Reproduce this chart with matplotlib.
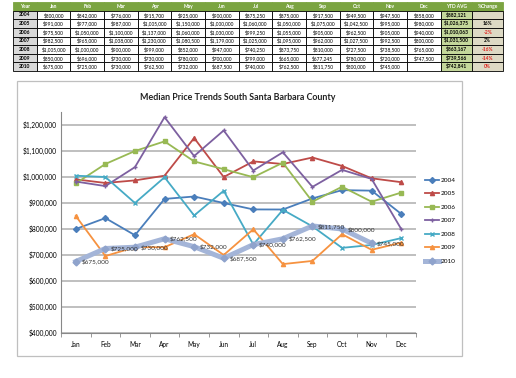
"""
Median price trends, South Santa Barbara County: table + line chart
"""

import matplotlib.pyplot as plt
from matplotlib.patches import Rectangle

plt.rcParams['font.family'] = ['Lato', 'DejaVu Sans']

months = ['Jan', 'Feb', 'Mar', 'Apr', 'May', 'Jun',
          'Jul', 'Aug', 'Sep', 'Oct', 'Nov', 'Dec']
years = ['2004', '2005', '2006', '2007', '2008', '2009', '2010']

p2004 = [800000, 842000, 776000, 915700, 925000, 900000,
         875250, 875000, 917500, 949500, 947500, 858000]
p2005 = [991000, 977000, 987000, 1005000, 1150000, 1000000,
         1060000, 1050000, 1075000, 1042500, 995000, 980000]
p2006 = [975500, 1050000, 1100000, 1137000, 1060000, 1030000,
         999250, 1055000, 905000, 962500, 905000, 940000]
p2007 = [982500, 965000, 1038000, 1230000, 1080500, 1179000,
         1025000, 1095000, 962000, 1027500, 992500, 800000]
p2008 = [1005000, 1000000, 900000, 999000, 852000, 947000,
         740250, 873750, 810000, 727500, 738500, 765000]
p2009 = [850000, 696000, 730000, 730000, 780000, 700000,
         799000, 665000, 677245, 780000, 720000, 747500]
p2010 = [675000, 725000, 730000, 762500, 732000, 687500,
         740000, 762500, 811750, 800000, 745000]

ytd_avg = [882121, 1026375, 1010063, 1031500, 863167, 739566, 742841]
pct_change = ['', '16%', '-2%', '2%', '-16%', '-14%', '0%']

series = [p2004, p2005, p2006, p2007, p2008, p2009, p2010]
colors = ['#4A7EBB', '#BE4B48', '#98B954', '#7D60A0',
          '#46AAC5', '#F69240', '#A4B5D8']
markers = ['D', '^', 's', '+', 'x', '^', 'D']

fig = plt.figure(figsize=(5.16, 3.78), dpi=100)
W, H = 516.0, 378.0

# ---- table on top
ax_tab = fig.add_axes([13 / W, 1 - 71 / H, 490 / W, 69 / H])
ax_tab.axis('off')
header = ['Year'] + months + ['YTD AVG', '%Change']
rows = []
for i in range(len(years)):
    r = [years[i]]
    for v in series[i]:
        r.append('${:,}'.format(v))
    while len(r) < 13:
        r.append('')
    r.append('${:,}'.format(ytd_avg[i]))
    r.append(pct_change[i])
    rows.append(r)
colw = [24] + [34] * 12 + [32, 31]
tot = float(sum(colw))
colw = [c / tot for c in colw]
tbl = ax_tab.table(cellText=rows, colLabels=header, colWidths=colw,
                   bbox=[0, 0, 1, 1], cellLoc='center')
tbl.auto_set_font_size(False)
tbl.set_fontsize(3.5)
for (r, c), cell in tbl.get_celld().items():
    cell.set_linewidth(0.6)
    cell.set_edgecolor('black')
    txt = cell.get_text()
    if r == 0:
        cell.set_facecolor('#7BA441')
        cell.set_edgecolor('#7BA441')
        txt.set_color('white')
        txt.set_fontweight('bold')
    elif c == 0:
        cell.set_facecolor('#D9D9D9')
        txt.set_fontweight('bold')
    elif c == 13:
        cell.set_facecolor('#C4D79B')
        txt.set_fontweight('bold')
    elif c == 14:
        cell.set_facecolor('#DDD9C4')
        txt.set_fontweight('bold')
        if txt.get_text().startswith('-') or txt.get_text() == '0%':
            txt.set_color('#E0201B')

# ---- chart frame
fig.patches.append(Rectangle((17 / W, 1 - 356 / H), 445 / W, 275 / H,
                             transform=fig.transFigure, fill=False,
                             ec='#BFBFBF', lw=0.9))

ax = fig.add_axes([61 / W, 1 - 333 / H, 355 / W, 221 / H])
x = list(range(12))
for i in range(len(years)):
    y = series[i]
    if years[i] == '2010':
        ax.plot(x[:len(y)], y, color=colors[i], lw=3.6, marker=markers[i],
                ms=3.5, mfc='#8FA3CC', mec='#8FA3CC', label=years[i],
                zorder=4)
    else:
        ax.plot(x, y, color=colors[i], lw=1.3, marker=markers[i], ms=3,
                mew=1.0, label=years[i], zorder=3)

for j in range(len(p2010)):
    ax.annotate('${:,}'.format(p2010[j]), (j, p2010[j]), xytext=(4, 0),
                textcoords='offset points', ha='left', va='center',
                fontsize=4.6, color='#333333', zorder=5)

ax.set_xlim(-0.5, 11.5)
ax.set_ylim(400000, 1250000)
ax.set_yticks(range(400000, 1300000, 100000))
ax.set_yticklabels(['${:,}'.format(v) for v in range(400000, 1300000, 100000)],
                   fontsize=4.8)
ax.set_xticks(x)
ax.set_xticklabels(months, fontsize=4.7)
ax.set_xticks([k + 0.5 for k in range(-1, 12)], minor=True)
ax.tick_params(axis='x', which='major', length=0, pad=6)
ax.tick_params(axis='x', which='minor', length=3, color='#888888')
ax.tick_params(axis='y', length=0, pad=3)
ax.grid(axis='y', color='#B4B4B4', lw=1.2)
ax.set_axisbelow(True)
for s in ['top', 'right']:
    ax.spines[s].set_visible(False)
ax.spines['left'].set_color('#888888')
ax.spines['bottom'].set_color('#888888')

fig.text(238 / W, 1 - 98 / H, 'Median Price Trends South Santa Barbara County',
         ha='center', va='center', fontsize=6.4, fontweight='bold',
         color='#222222')

fig.legend(loc='upper left', bbox_to_anchor=(422 / W, 1 - 175 / H),
           frameon=False, fontsize=4.6, handlelength=2.2, labelspacing=1.25,
           handletextpad=0.3, borderaxespad=0)

fig.savefig('out.png', dpi=100)
